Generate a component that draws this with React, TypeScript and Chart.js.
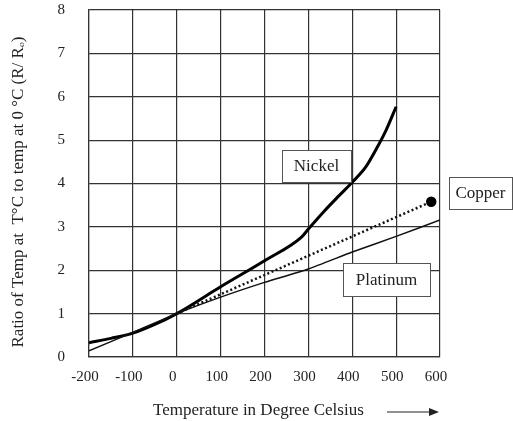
import React, { useEffect, useRef } from "react";
import { Chart, registerables } from "chart.js";

Chart.register(...registerables);

const xTicks = [-200, -100, 0, 100, 200, 300, 400, 500, 600];
const yTicks = [0, 1, 2, 3, 4, 5, 6, 7, 8];

const nickelT = [-200, -150, -100, -50, 0, 100, 200, 285, 300, 335, 370, 400, 430, 455, 478, 500];
const nickelR = [0.33, 0.43, 0.55, 0.75, 1.0, 1.62, 2.22, 2.77, 2.95, 3.35, 3.72, 4.03, 4.37, 4.8, 5.25, 5.77];

const copperT = [0, 580];
const copperR = [1.0, 3.58];

const platinumT = [-200, -100, 0, 100, 200, 300, 400, 500, 600];
const platinumR = [0.14, 0.57, 1.0, 1.38, 1.72, 2.03, 2.42, 2.78, 3.16];

const xTitle = "Temperature in Degree Celsius";
const yTitle = "Ratio of Temp at  T\u00B0C to temp at 0 \u00B0C (R/ R\u2092)";
const seriesNames = ["Nickel", "Copper", "Platinum"];

const FONT = "'Liberation Serif', 'Times New Roman', serif";

const decorPlugin = {
  id: "decor",
  afterDraw(chart: any) {
    const ctx = chart.ctx;
    ctx.save();
    ctx.fillStyle = "#222";
    ctx.font = `17px ${FONT}`;
    ctx.textBaseline = "middle";
    // x title
    ctx.textAlign = "left";
    ctx.fillText(xTitle, 153, 411);
    // arrow
    ctx.strokeStyle = "#222";
    ctx.lineWidth = 1.2;
    ctx.beginPath();
    ctx.moveTo(387, 412);
    ctx.lineTo(432, 412);
    ctx.stroke();
    ctx.beginPath();
    ctx.moveTo(439, 412);
    ctx.lineTo(429, 408);
    ctx.lineTo(429, 416);
    ctx.closePath();
    ctx.fill();
    // y title
    ctx.save();
    ctx.translate(19, 192);
    ctx.rotate(-Math.PI / 2);
    ctx.textAlign = "center";
    ctx.fillText(yTitle, 0, 0);
    ctx.restore();
    // label boxes
    const boxes = [
      { t: seriesNames[0], x: 282, y: 150, w: 69, h: 32 },
      { t: seriesNames[1], x: 449, y: 177, w: 63, h: 32 },
      { t: seriesNames[2], x: 343, y: 263, w: 87, h: 33 },
    ];
    for (const b of boxes) {
      ctx.fillStyle = "#fff";
      ctx.fillRect(b.x, b.y, b.w, b.h);
      ctx.strokeStyle = "#555";
      ctx.lineWidth = 1;
      ctx.strokeRect(b.x + 0.5, b.y + 0.5, b.w, b.h);
      ctx.fillStyle = "#222";
      ctx.textAlign = "center";
      ctx.fillText(b.t, b.x + b.w / 2, b.y + b.h / 2 + 1);
    }
    ctx.restore();
  },
};

export default function App() {
  const ref = useRef<HTMLCanvasElement>(null);
  useEffect(() => {
    if (!ref.current) return;
    const mk = (xs: number[], ys: number[]) => xs.map((x, i) => ({ x, y: ys[i] }));
    const chart = new Chart(ref.current, {
      type: "line",
      data: {
        datasets: [
          {
            label: seriesNames[2],
            data: mk(platinumT, platinumR),
            borderColor: "#111",
            borderWidth: 1.5,
            pointRadius: 0,
            tension: 0.2,
          },
          {
            label: seriesNames[1],
            data: mk(copperT, copperR),
            borderColor: "#111",
            borderWidth: 2.5,
            borderDash: [2, 2.5],
            pointRadius: [0, 4],
            pointBackgroundColor: "#000",
            pointBorderColor: "#000",
          },
          {
            label: seriesNames[0],
            data: mk(nickelT, nickelR),
            borderColor: "#000",
            borderWidth: 3,
            pointRadius: 0,
            cubicInterpolationMode: "monotone",
          },
        ],
      },
      options: {
        responsive: false,
        animation: false,
        layout: { padding: { left: 0, right: 73, top: 10, bottom: 0 } },
        plugins: { legend: { display: false }, tooltip: { enabled: false } },
        scales: {
          x: {
            type: "linear",
            min: xTicks[0],
            max: xTicks[xTicks.length - 1],
            afterBuildTicks: (s: any) => {
              s.ticks = xTicks.map((v) => ({ value: v }));
            },
            afterFit: (s: any) => {
              s.height = 64;
              s.paddingLeft = 0;
              s.paddingRight = 0;
            },
            grid: { color: "#333", lineWidth: 1.2, drawTicks: false },
            border: { color: "#333", width: 1.2 },
            ticks: { padding: 11, labelOffset: -4, color: "#222", font: { family: FONT, size: 15 }, maxRotation: 0, autoSkip: false },
          },
          y: {
            type: "linear",
            min: yTicks[0],
            max: yTicks[yTicks.length - 1],
            afterBuildTicks: (s: any) => {
              s.ticks = yTicks.map((v) => ({ value: v }));
            },
            afterFit: (s: any) => {
              s.width = 89;
              s.paddingTop = 0;
              s.paddingBottom = 0;
            },
            grid: { color: "#333", lineWidth: 1.2, drawTicks: false },
            border: { color: "#333", width: 1.2 },
            ticks: { padding: 24, color: "#222", font: { family: FONT, size: 15 } },
          },
        },
      },
      plugins: [decorPlugin],
    } as any);
    return () => chart.destroy();
  }, []);
  return (
    <div style={{ position: "fixed", left: 0, top: 0, width: 513, height: 421, background: "#fff" }}>
      <canvas ref={ref} width={513} height={421} style={{ width: 513, height: 421 }} />
    </div>
  );
}
